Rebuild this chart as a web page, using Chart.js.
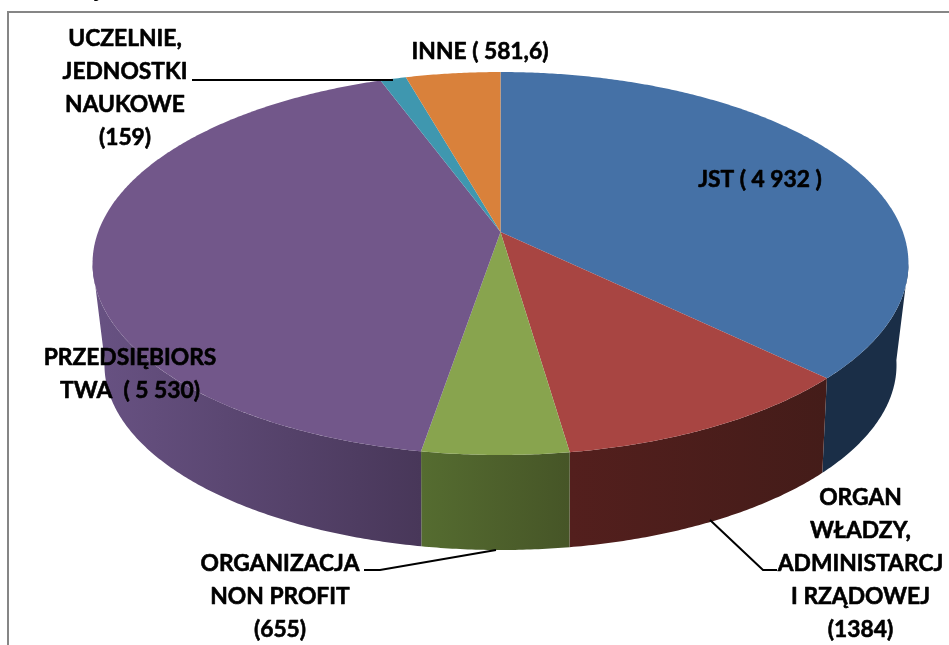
<!DOCTYPE html>
<html lang="pl">
<head>
<meta charset="utf-8">
<title>Wykres</title>
<style>
  html, body { margin: 0; padding: 0; background: #fff; }
  canvas { display: block; }
</style>
<script src="https://cdn.jsdelivr.net/npm/chart.js@4/dist/chart.umd.min.js"></script>
</head>
<body>
<canvas id="chart" width="949" height="645"></canvas>
<script>
const categories = ['JST', 'ORGAN WŁADZY, ADMINISTARCJI RZĄDOWEJ', 'ORGANIZACJA NON PROFIT', 'PRZEDSIĘBIORSTWA', 'UCZELNIE, JEDNOSTKI NAUKOWE', 'INNE'];
const values = [4932, 1384, 655, 5530, 159, 581.6];
const topColors = ['#4571A6', '#A84542', '#88A44E', '#72578A', '#3F97AF', '#D9813B'];
// kolory ścianki bocznej: [lewa krawędź, prawa krawędź]
const wallColors = [
  ['#1A2E47', '#1A2E47'],
  ['#531F1D', '#441C19'],
  ['#556C30', '#465527'],
  ['#685283', '#483759'],
  ['#265A69', '#265A69'],
  ['#83491F', '#83491F'],
];

// opisy: wiersze tekstu i środek bloku
const labelLines = [
  ['JST ( 4 932 )'],
  ['ORGAN', 'WŁADZY,', 'ADMINISTARCJ', 'I RZĄDOWEJ', '(1384)'],
  ['ORGANIZACJA', 'NON PROFIT', '(655)'],
  ['PRZEDSIĘBIORS', 'TWA  ( 5 530)'],
  ['UCZELNIE,', 'JEDNOSTKI', 'NAUKOWE', '(159)'],
  ['INNE ( 581,6)'],
];
const labelX = [760, 860.5, 280, 130, 125, 480];
const labelY = [180, 498, 564, 358, 39, 52];
const labelStep = 32.8;

const leaders = [
  [[192, 80], [393, 80]],
  [[364, 570], [380, 570], [496, 550]],
  [[710, 520], [763, 570], [777, 570]],
];

// rzut perspektywiczny koła na elipsę (góra i spód tortu)
const topFace = { cy: 232, R: 402.4, S: 186.3, k: 0.1645 };
const bottomFace = { cy: 329.9, R: 388.8, S: 178.3, k: 0.19 };
const cx = 500.5;

function project(face, a) {
  const u = Math.sin(a), v = Math.cos(a);
  const w = 1 + face.k * v;
  return [cx + face.R * u / w, face.cy - face.S * v / w];
}

function rim(ctx, face, a0, a1) {
  const n = Math.max(2, Math.ceil(Math.abs(a1 - a0) * 120));
  for (let i = 0; i <= n; i++) {
    const p = project(face, a0 + (a1 - a0) * i / n);
    ctx.lineTo(p[0], p[1]);
  }
}

const pie3d = {
  id: 'pie3d',
  beforeDatasetsDraw(chart) {
    const ctx = chart.ctx;
    const arcs = chart.getDatasetMeta(0).data;
    const angles = arcs.map(arc => [arc.startAngle + Math.PI / 2, arc.endAngle + Math.PI / 2]);
    // ścianka widoczna tylko między skrajnymi punktami elipsy
    const wallFrom = Math.acos(-topFace.k);
    const wallTo = 2 * Math.PI - wallFrom;

    ctx.save();
    angles.forEach(([start, end], i) => {
      const a0 = Math.max(start, wallFrom), a1 = Math.min(end, wallTo);
      if (a1 <= a0) return;
      const xs = [project(topFace, a0)[0], project(topFace, a1)[0]];
      const grad = ctx.createLinearGradient(Math.min(...xs), 0, Math.max(...xs), 0);
      grad.addColorStop(0, wallColors[i][0]);
      grad.addColorStop(1, wallColors[i][1]);
      ctx.beginPath();
      rim(ctx, topFace, a0, a1);
      rim(ctx, bottomFace, a1, a0);
      ctx.closePath();
      ctx.fillStyle = grad;
      ctx.fill();
    });
    angles.forEach(([start, end], i) => {
      ctx.beginPath();
      ctx.moveTo(cx, topFace.cy);
      rim(ctx, topFace, start, end);
      ctx.closePath();
      ctx.fillStyle = topColors[i];
      ctx.fill();
    });
    ctx.restore();
    return false;
  },
  afterDraw(chart) {
    const ctx = chart.ctx;
    ctx.save();
    // ramka wykresu
    ctx.strokeStyle = '#868686';
    ctx.lineWidth = 2;
    ctx.beginPath();
    ctx.moveTo(8, 645);
    ctx.lineTo(8, 12);
    ctx.lineTo(949, 12);
    ctx.stroke();
    // linie odniesienia
    ctx.strokeStyle = '#000';
    ctx.lineWidth = 2;
    leaders.forEach(pts => {
      ctx.beginPath();
      pts.forEach((p, i) => i ? ctx.lineTo(p[0], p[1]) : ctx.moveTo(p[0], p[1]));
      ctx.stroke();
    });
    // opisy: lekki obrys, bo oryginał jest grubszy niż Lato Bold
    ctx.fillStyle = '#000';
    ctx.lineWidth = 0.6;
    ctx.lineJoin = 'round';
    ctx.font = '700 22.8px Lato';
    ctx.textAlign = 'center';
    ctx.textBaseline = 'middle';
    labelLines.forEach((lines, i) => {
      lines.forEach((line, j) => {
        const y = labelY[i] + j * labelStep;
        ctx.fillText(line, labelX[i], y);
        ctx.strokeText(line, labelX[i], y);
      });
    });
    // resztka tytułu uciętego górną krawędzią
    ctx.textBaseline = 'alphabetic';
    ctx.fillText('j', 98, -3);
    ctx.restore();
  },
};

new Chart(document.getElementById('chart'), {
  type: 'pie',
  data: {
    labels: categories,
    datasets: [{ data: values, backgroundColor: topColors, borderWidth: 0 }],
  },
  options: {
    responsive: false,
    animation: false,
    plugins: { legend: { display: false }, tooltip: { enabled: false } },
  },
  plugins: [pie3d],
});
</script>
</body>
</html>
